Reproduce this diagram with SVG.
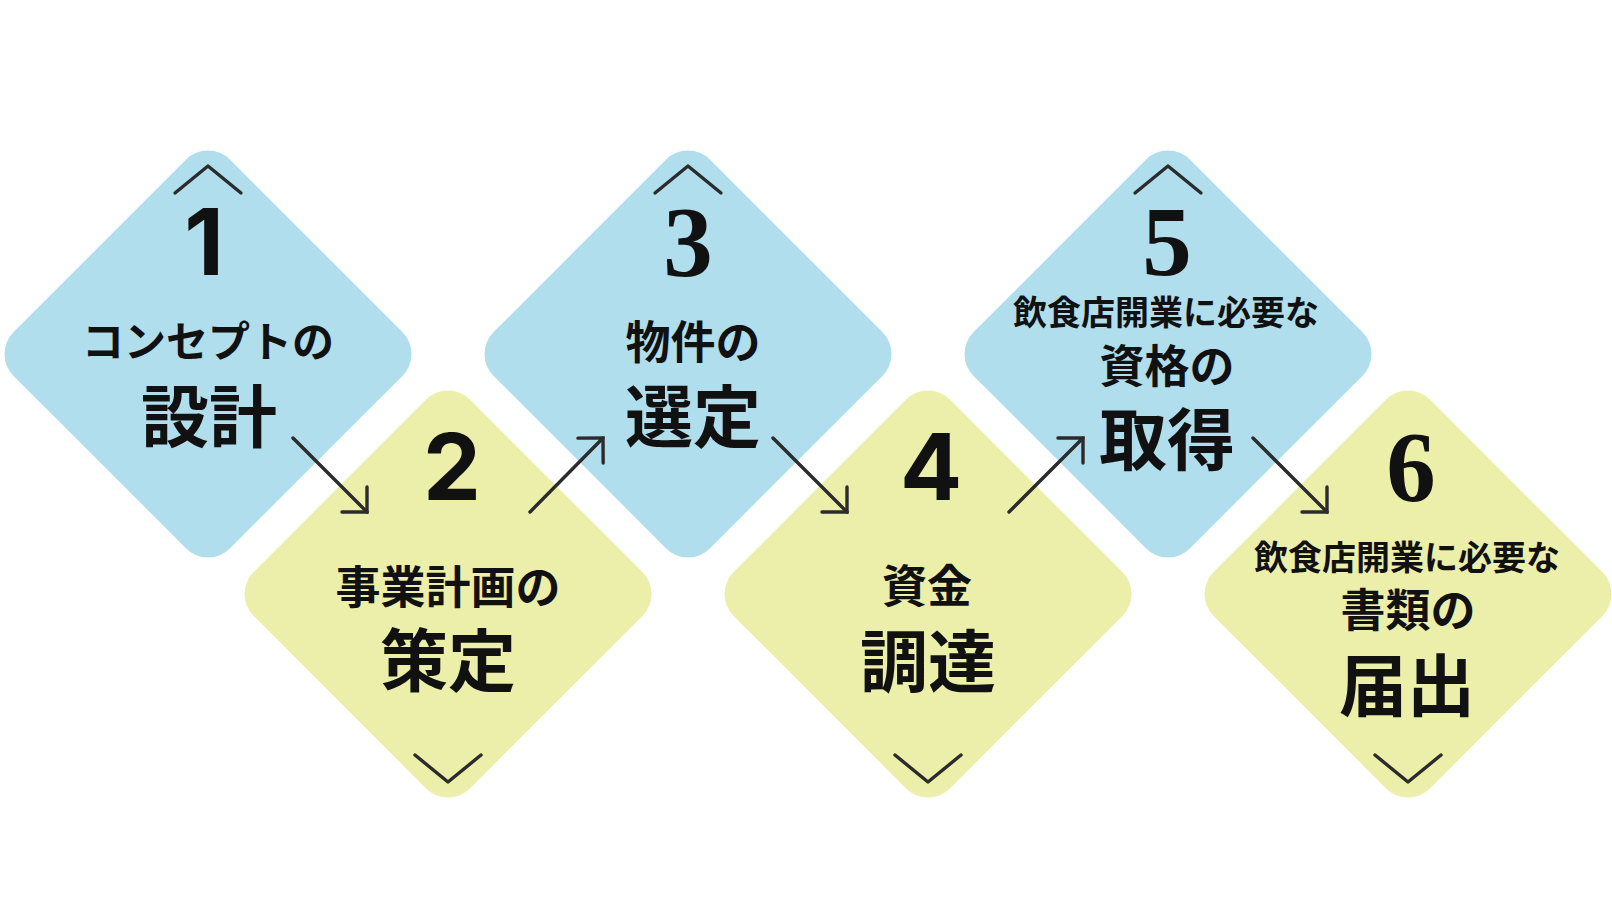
<svg xmlns="http://www.w3.org/2000/svg" xmlns:xlink="http://www.w3.org/1999/xlink" width="1612" height="904" viewBox="0 0 1612 904">
<style>
.blue{fill:#B0DEED}
.yellow{fill:#ECEFAA}
.chev{fill:none;stroke:#2B2B2B;stroke-width:3.4;stroke-linecap:round;stroke-linejoin:round}
.conn{fill:none;stroke:#2B2B2B;stroke-width:3.4;stroke-linecap:round}
.jp{font-family:"Noto Sans CJK JP","Noto Sans CJK SC",sans-serif;font-weight:700;fill:#111;text-anchor:middle}
.s34{font-size:34px}
.s42{font-size:42px}
.s45{font-size:45px}
.s68{font-size:68px}
.num{font-weight:700;fill:#111;text-anchor:middle}
.sans{font-family:Inter,"Open Sans",sans-serif;font-size:92px}
.serif{font-family:"Liberation Serif","Times New Roman",serif;font-size:99px}
</style>
<defs>
<rect id="dia" x="-153" y="-153" width="306" height="306" rx="31" ry="31" transform="rotate(45)"/>
<marker id="head" markerUnits="userSpaceOnUse" markerWidth="40" markerHeight="40" viewBox="-25 -20 30 40" refX="0" refY="0" orient="auto">
<path d="M-17.7,-17.7 L0,0 L-17.7,17.7" fill="none" stroke="#2B2B2B" stroke-width="3.4" stroke-linecap="round" stroke-linejoin="miter"/>
</marker>
</defs>
<rect width="1612" height="904" fill="#FFFFFF"/>
<g id="node1">
<use xlink:href="#dia" href="#dia" class="blue" transform="translate(208,354)"/>
<path class="chev" d="M175,193 L208,166 L241,193"/>
<text class="num sans" x="204" y="275">1</text>
<text class="jp s42" x="208" y="357">コンセプトの</text>
<text class="jp s68" x="209" y="442">設計</text>
</g>
<g id="node2">
<use xlink:href="#dia" href="#dia" class="yellow" transform="translate(448,594)"/>
<path class="chev" d="M415,755 L448,782 L481,755"/>
<text class="num sans" x="452" y="500">2</text>
<text class="jp s45" x="448" y="604">事業計画の</text>
<text class="jp s68" x="448" y="686">策定</text>
</g>
<g id="node3">
<use xlink:href="#dia" href="#dia" class="blue" transform="translate(688,354)"/>
<path class="chev" d="M655,193 L688,166 L721,193"/>
<text class="num serif" x="688" y="275">3</text>
<text class="jp s45" x="693" y="359">物件の</text>
<text class="jp s68" x="693" y="442">選定</text>
</g>
<g id="node4">
<use xlink:href="#dia" href="#dia" class="yellow" transform="translate(928,594)"/>
<path class="chev" d="M895,755 L928,782 L961,755"/>
<text class="num sans" x="931" y="500">4</text>
<text class="jp s45" x="927" y="603">資金</text>
<text class="jp s68" x="928" y="687">調達</text>
</g>
<g id="node5">
<use xlink:href="#dia" href="#dia" class="blue" transform="translate(1168,354)"/>
<path class="chev" d="M1135,193 L1168,166 L1201,193"/>
<text class="num serif" x="1167" y="275">5</text>
<text class="jp s34" x="1166" y="325">飲食店開業に必要な</text>
<text class="jp s45" x="1167" y="383">資格の</text>
<text class="jp s68" x="1167" y="465">取得</text>
</g>
<g id="node6">
<use xlink:href="#dia" href="#dia" class="yellow" transform="translate(1408,594)"/>
<path class="chev" d="M1375,755 L1408,782 L1441,755"/>
<text class="num serif" x="1411" y="500">6</text>
<text class="jp s34" x="1407" y="570">飲食店開業に必要な</text>
<text class="jp s45" x="1408" y="627">書類の</text>
<text class="jp s68" x="1407" y="711">届出</text>
</g>
<g id="connectors">
<line class="conn" x1="293" y1="438" x2="367" y2="512" marker-end="url(#head)"/>
<line class="conn" x1="530" y1="512" x2="603" y2="438" marker-end="url(#head)"/>
<line class="conn" x1="773" y1="438" x2="847" y2="512" marker-end="url(#head)"/>
<line class="conn" x1="1009" y1="512" x2="1083" y2="438" marker-end="url(#head)"/>
<line class="conn" x1="1253" y1="438" x2="1327" y2="512" marker-end="url(#head)"/>
</g>
</svg>
